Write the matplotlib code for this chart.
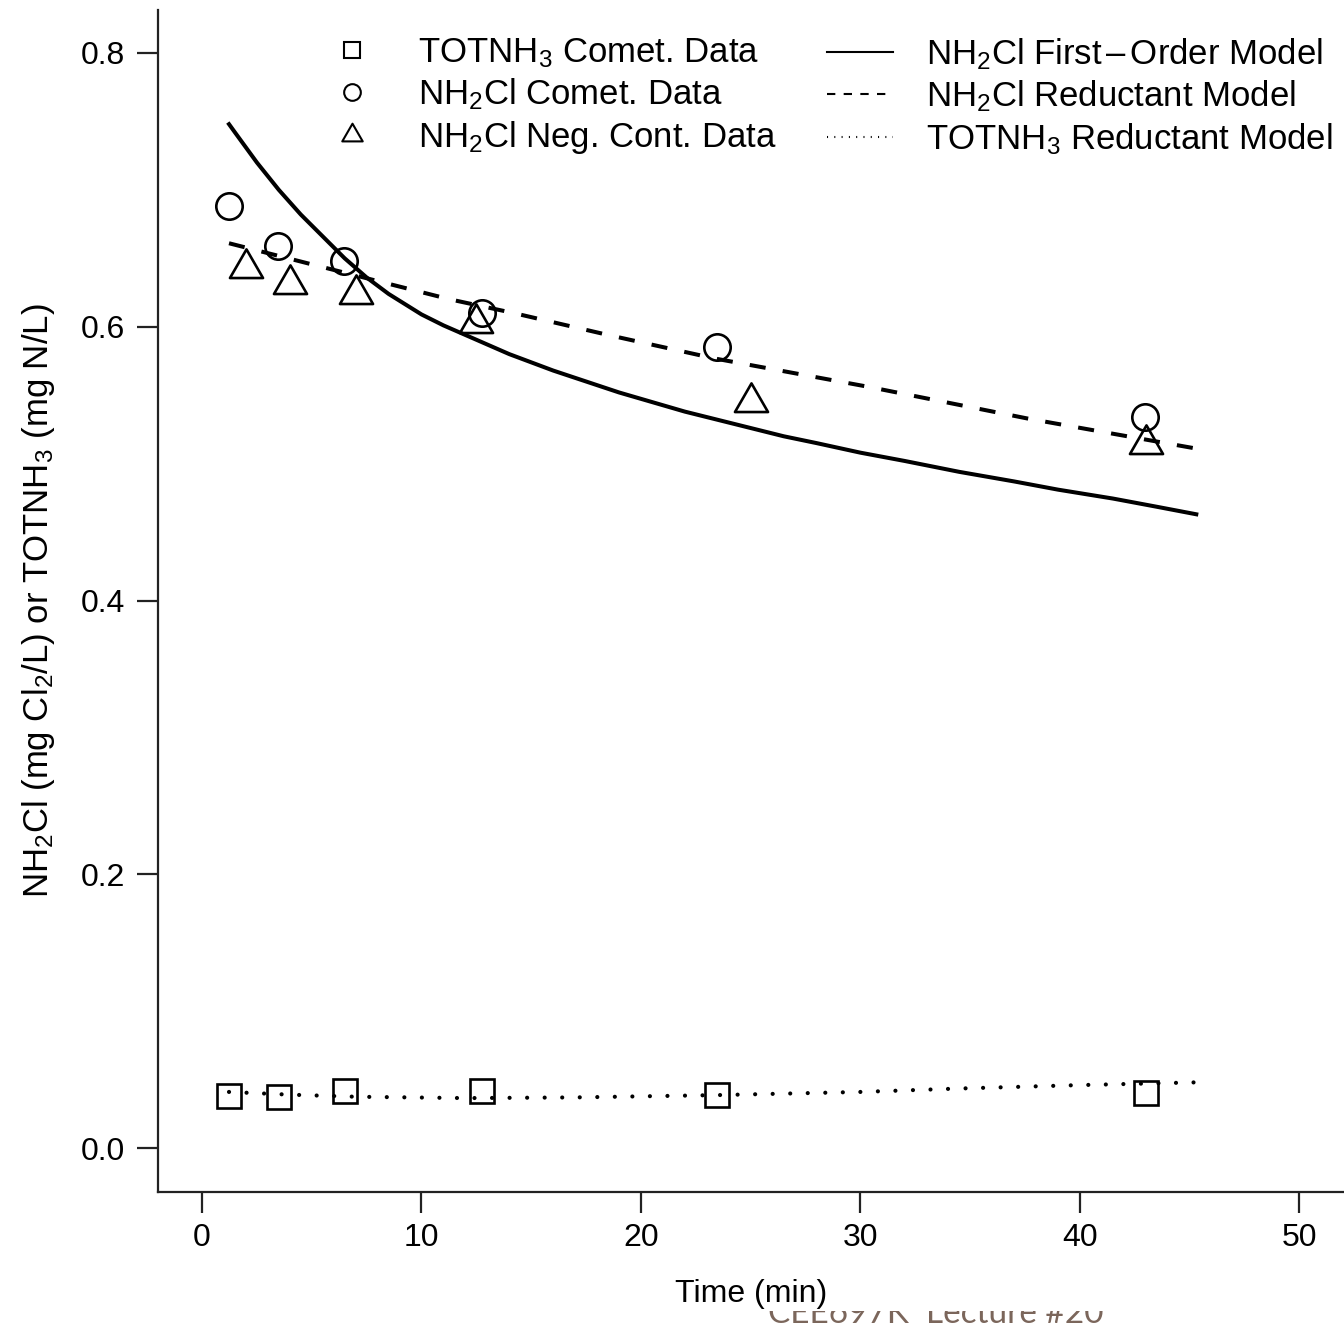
import matplotlib
matplotlib.use("Agg")
from matplotlib import pyplot as plt
from matplotlib.lines import Line2D
from matplotlib.path import Path
from matplotlib.transforms import Bbox, TransformedBbox

plt.rcParams['font.family'] = ['Liberation Sans', 'DejaVu Sans']
plt.rcParams['mathtext.fontset'] = 'custom'
plt.rcParams['mathtext.rm'] = 'Liberation Sans'
plt.rcParams['mathtext.it'] = 'Liberation Sans:italic'
plt.rcParams['mathtext.bf'] = 'Liberation Sans:bold'

# measured data (time in min)
t_tot = [1.23, 3.5, 6.5, 12.75, 23.45, 43.0]
tot_comet = [0.038, 0.037, 0.042, 0.042, 0.039, 0.040]

t_com = [1.24, 3.47, 6.47, 12.76, 23.46, 42.96]
nh2cl_comet = [0.688, 0.659, 0.648, 0.610, 0.585, 0.534]

t_neg = [2.0, 4.0, 7.0, 12.5, 25.0, 43.0]
nh2cl_neg = [0.643, 0.631, 0.624, 0.603, 0.545, 0.514]

# model curves
t_first = [1.23, 1.5, 2.0, 2.5, 3.0, 3.5, 4.0, 4.5, 5.0, 5.5, 6.0, 6.5, 7.0, 7.5, 8.0,
           8.5, 9.0, 9.5, 10.0, 11.0, 12.0, 13.0, 14.0, 15.0, 16.0, 17.5, 19.0, 20.5,
           22.0, 23.5, 25.0, 26.5, 28.0, 30.0, 32.0, 34.5, 37.0, 39.0, 41.5, 43.5, 45.3]
first_order = [0.748, 0.742, 0.731, 0.720, 0.710, 0.700, 0.691, 0.682, 0.674, 0.666,
               0.658, 0.650, 0.643, 0.636, 0.630, 0.624, 0.619, 0.614, 0.609, 0.601,
               0.594, 0.587, 0.580, 0.574, 0.568, 0.560, 0.552, 0.545, 0.538, 0.532,
               0.526, 0.520, 0.515, 0.508, 0.502, 0.494, 0.487, 0.481, 0.4745, 0.4685,
               0.463]

t_red = [1.23, 4.9, 8.1, 11.3, 14.2, 18.5, 23.3, 30.4, 37.6, 45.3]
nh2cl_red = [0.661, 0.646, 0.633, 0.620, 0.610, 0.594, 0.577, 0.556, 0.533, 0.511]

t_tot_red = [1.23, 4.0, 7.0, 12.0, 17.0, 23.5, 30.0, 34.5, 40.0, 45.3]
tot_red = [0.041, 0.039, 0.0375, 0.0365, 0.037, 0.0387, 0.041, 0.0435, 0.046, 0.048]

W, H = 1344, 1326
fig = plt.figure(figsize=(W / 100, H / 100), dpi=100)
ax = fig.add_axes([158 / W, 134 / H, 1 - 158 / W, (1192 - 10) / H])

# R-style open triangle (pch 2)
tri = Path([(0, 1.1547), (-1, -0.577), (1, -0.577), (0, 0)],
           [Path.MOVETO, Path.LINETO, Path.LINETO, Path.CLOSEPOLY])

ax.plot(t_first, first_order, '-', color='black', lw=2.9)
ax.plot(t_red, nh2cl_red, color='black', lw=2.9, linestyle=(0, (4, 4.3)))
ax.plot(t_tot_red, tot_red, color='black', lw=3.0, linestyle=(0, (0.01, 4.2)),
        dash_capstyle='round')

ax.plot(t_tot, tot_comet, 's', ms=17.5, mfc='none', mec='black', mew=1.9)
ax.plot(t_com, nh2cl_comet, 'o', ms=19, mfc='none', mec='black', mew=1.9)
ax.plot(t_neg, nh2cl_neg, marker=tri, ls='none', ms=27.5, mfc='none', mec='black',
        mew=1.9)

ax.set_xlim(-2.005, 52.03)
ax.set_ylim(-0.0321, 0.8314)
ax.set_xticks([0, 10, 20, 30, 40, 50])
ax.set_yticks([0.0, 0.2, 0.4, 0.6, 0.8])
ax.set_yticklabels(['0.0', '0.2', '0.4', '0.6', '0.8'])
for s in ['top', 'right']:
    ax.spines[s].set_visible(False)
for s in ['left', 'bottom']:
    ax.spines[s].set_linewidth(1.6)
    ax.spines[s].set_color('#222222')
ax.tick_params(length=15, width=1.6, color='#222222', labelsize=23, pad=9)
ax.tick_params(axis='x', pad=7)

ax.set_xlabel('Time (min)', fontsize=23, labelpad=19)
ax.set_ylabel(r'NH$_2$Cl (mg Cl$_2$/L) or TOTNH$_3$ (mg N/L)', fontsize=25, labelpad=17)

# legend, two blocks
h1 = [Line2D([], [], ls='none', marker='s', ms=11, mfc='none', mec='black', mew=1.5),
      Line2D([], [], ls='none', marker='o', ms=12, mfc='none', mec='black', mew=1.5),
      Line2D([], [], ls='none', marker=tri, ms=17, mfc='none', mec='black', mew=1.5)]
l1 = [r'TOTNH$_3$ Comet. Data', r'NH$_2$Cl Comet. Data', r'NH$_2$Cl Neg. Cont. Data']
h2 = [Line2D([], [], color='black', lw=1.5),
      Line2D([], [], color='black', lw=1.5, ls=(0, (4, 4))),
      Line2D([], [], color='black', lw=1.5, ls=(0, (0.5, 3)))]
l2 = [r'NH$_2$Cl First$\,$–$\,$Order Model', r'NH$_2$Cl Reductant Model',
      r'TOTNH$_3$ Reductant Model']

leg_kw = dict(loc='upper left', frameon=False, fontsize=25, borderpad=0, borderaxespad=0,
              handlelength=1.9, handletextpad=0.95, labelspacing=0.2)
leg1 = ax.legend(h1, l1, bbox_to_anchor=((319 - 158) / 1186, (1192 - 36) / 1182), **leg_kw)
ax.add_artist(leg1)
ax.legend(h2, l2, bbox_to_anchor=((827 - 158) / 1186, (1192 - 36) / 1182), **leg_kw)

# footer of the slide, mostly hidden behind the chart
ft = fig.text(768 / W, 1 - 1323 / H, 'CEE697K  Lecture #20', color='#7b665b',
              fontsize=24, family='Lato', va='baseline')
ft.set_clip_box(TransformedBbox(Bbox([[0, 0], [1, 15 / H]]), fig.transFigure))
ft.set_clip_on(True)

fig.savefig('out.png', dpi=100)
